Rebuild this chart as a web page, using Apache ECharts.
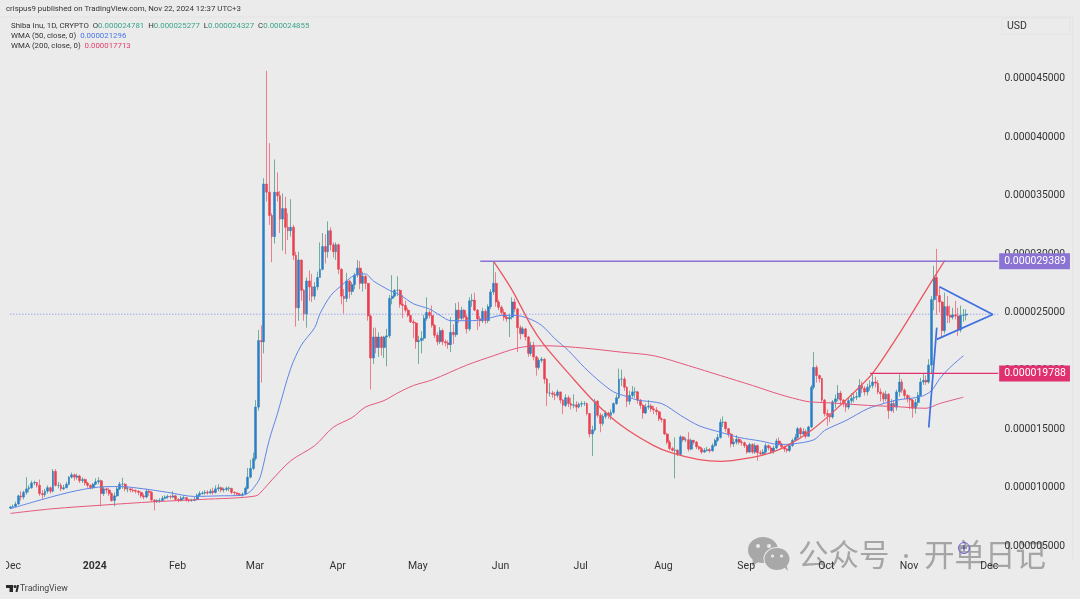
<!DOCTYPE html>
<html><head><meta charset="utf-8">
<style>html,body{margin:0;padding:0;background:#ebebeb}#c{width:1080px;height:599px}</style>
<script src="https://cdn.jsdelivr.net/npm/echarts@6/dist/echarts.min.js"></script>
</head><body><div id="c"></div>
<script>
// prices are in millionths of a USD (1 = 0.000001)
const firstOpen = 8.25;
const closes = [
8.35,8.4,8.6,9.3,9.2,9.6,9.9,10.0,10.4,10.45,
10.2,9.5,9.4,9.7,10.0,9.7,11.4,10.2,10.2,9.9,
10.0,10.3,10.9,11.1,10.9,11.0,10.6,10.7,10.4,10.2,
10.0,10.3,10.5,10.6,9.5,9.9,9.8,9.5,8.9,9.3,
9.9,10.3,10.3,9.9,9.9,9.8,9.75,9.7,9.6,9.3,
9.2,9.7,9.6,8.95,8.8,8.9,8.9,9.1,9.2,9.25,
9.2,9.3,9.0,8.9,9.1,9.15,8.95,8.9,8.9,9.0,
9.35,9.5,9.55,9.6,9.55,9.7,9.6,9.9,10.0,9.8,
9.85,9.95,9.95,9.6,9.55,9.45,9.4,9.45,9.95,10.9,
11.65,12.5,16.9,22.6,22.5,36.0,35.3,33.3,31.5,35.3,
35.0,33.0,33.9,32.3,32.0,32.3,29.9,25.4,29.5,26.9,
24.9,27.7,27.2,26.4,27.2,28.0,28.7,30.65,30.2,32.0,
30.8,30.2,30.8,28.7,26.4,26.2,27.7,26.8,27.4,28.2,
28.8,27.5,28.1,27.5,24.7,21.1,22.9,22.0,22.9,22.0,
22.9,23.0,26.2,26.4,26.9,26.9,25.7,25.6,25.2,24.75,
24.2,24.1,22.5,22.6,22.8,24.5,25.0,24.75,23.9,23.05,
22.5,23.45,22.5,22.4,22.25,23.3,23.1,25.2,24.5,25.2,
24.6,23.6,26.0,26.05,25.2,24.45,24.3,25.1,24.3,25.5,
26.75,27.5,25.9,25.45,25.0,24.6,24.45,24.6,25.9,25.3,
23.7,23.2,23.6,22.9,21.5,22.2,21.2,20.3,20.9,21.0,
19.3,18.1,18.1,18.0,17.9,18.2,17.5,17.05,17.7,17.2,
17.05,17.1,16.9,17.15,17.2,17.2,16.35,14.6,14.95,17.4,
16.2,15.5,16.1,16.4,16.2,16.45,17.2,17.7,19.3,19.3,
18.6,17.4,17.9,18.2,18.2,17.5,17.05,16.4,16.9,17.0,
16.75,16.65,16.5,15.9,15.85,14.6,13.9,13.35,13.2,13.2,
12.85,14.35,14.1,14.1,13.3,14.05,13.9,13.5,13.35,13.05,
13.2,13.25,13.15,13.6,14.05,14.3,15.6,15.6,15.05,14.6,
13.75,13.9,14.15,13.9,13.85,13.6,13.05,13.7,13.05,13.6,
13.0,12.9,13.05,13.6,13.4,13.1,13.4,14.0,13.75,13.5,
13.3,13.2,13.6,14.05,14.3,15.05,14.6,14.8,14.4,15.2,
18.6,20.3,19.6,19.35,17.5,16.35,16.2,16.05,17.35,17.6,
18.1,17.5,17.2,16.9,17.45,17.65,17.75,17.8,18.75,18.5,
18.2,18.6,18.75,19.05,18.95,18.2,18.05,17.6,18.0,16.6,
17.2,16.9,18.2,19.05,18.35,17.9,17.6,17.5,16.8,17.3,
17.9,19.05,19.2,19.05,20.5,26.1,28.0,26.45,25.9,23.45,
25.5,24.75,24.6,24.8,24.7,23.5,24.75,24.78,24.855];
const highs = [
8.45,8.55,8.8,9.4,9.7,9.75,10.9,10.2,10.6,10.6,
10.5,10.7,9.8,9.9,10.2,10.1,11.6,11.6,10.5,10.4,
10.25,10.5,11.0,11.3,11.2,11.2,11.1,10.9,10.8,10.5,
10.3,10.4,10.8,10.9,10.7,10.1,10.0,10.0,9.6,9.6,
10.1,10.5,10.85,10.4,10.1,10.0,9.95,9.85,9.8,9.7,
9.5,9.9,9.8,9.7,9.0,9.0,9.1,9.3,9.35,9.4,
9.35,9.7,9.4,9.1,9.3,9.3,9.2,9.05,9.05,9.2,
9.5,9.7,9.7,9.8,9.8,9.9,10.0,10.2,10.3,10.1,
10.0,10.1,10.1,9.95,9.7,9.6,9.55,9.6,10.1,11.7,
12.4,13.0,17.5,23.5,23.9,36.5,45.7,39.5,33.5,38.1,
37.0,35.4,35.2,34.9,33.5,34.7,32.5,30.2,30.2,29.5,
27.0,28.0,28.6,28.3,27.6,28.5,31.0,31.8,31.7,32.8,
32.3,31.0,31.0,30.9,28.8,27.0,28.4,27.8,27.6,28.4,
29.5,29.4,28.5,28.2,27.5,24.8,23.7,23.7,23.3,23.0,
23.0,23.6,26.5,28.2,27.0,28.1,27.0,26.5,26.0,25.4,
24.8,24.4,24.2,23.0,23.4,24.8,26.3,25.2,25.6,24.0,
23.3,23.75,23.6,22.7,22.6,24.6,24.0,25.8,25.9,25.5,
25.3,24.8,26.3,26.6,26.7,25.3,24.7,25.4,25.3,25.7,
27.0,29.39,28.45,26.1,25.6,25.3,24.8,24.9,26.3,26.2,
25.4,23.9,23.8,23.7,23.0,22.5,22.5,21.3,21.1,21.2,
21.1,19.4,18.95,18.3,18.2,18.4,18.2,17.6,18.0,17.9,
17.7,18.0,17.4,17.3,17.4,17.4,17.3,16.4,15.3,17.6,
17.5,16.4,16.3,16.6,16.5,16.7,17.3,18.0,20.2,20.1,
19.5,18.7,18.3,18.7,18.6,18.3,17.6,17.2,17.2,17.5,
17.2,17.0,16.9,16.6,16.0,15.9,14.7,14.1,13.5,14.3,
13.3,14.5,14.4,14.3,14.75,14.2,14.1,14.0,13.6,13.5,
13.4,13.5,13.4,13.8,14.2,14.6,15.9,16.1,15.7,15.1,
14.7,14.2,14.5,14.3,14.1,13.95,13.7,13.85,13.8,13.8,
13.7,13.2,13.3,13.8,13.7,13.6,13.6,14.2,14.3,13.85,
13.6,13.4,13.7,14.2,14.6,15.2,15.2,15.1,15.0,15.3,
18.8,21.6,20.5,19.7,19.4,17.6,16.7,16.4,17.5,18.0,
18.8,18.3,17.6,17.4,17.7,18.1,18.1,18.2,19.3,19.1,
18.7,18.9,19.2,19.8,19.5,19.2,18.5,18.2,18.3,18.1,
17.6,17.5,18.4,19.7,19.3,18.5,18.0,17.9,17.6,17.6,
18.2,19.4,19.8,19.6,21.0,26.4,29.0,30.45,27.2,26.0,
26.7,26.4,25.6,25.4,26.0,25.4,25.6,25.3,25.277];
const lows = [
8.2,8.3,8.4,8.55,8.9,9.0,9.4,9.6,9.9,10.2,
10.0,9.3,9.0,9.2,9.5,9.5,9.6,10.1,9.95,9.7,
9.8,9.95,10.2,10.8,10.6,10.7,10.4,10.4,10.2,10.0,
9.85,9.9,10.2,10.3,8.4,9.3,9.5,9.3,8.8,8.4,
9.2,9.8,9.9,9.7,9.6,9.6,9.6,9.5,9.35,9.1,
9.0,9.1,9.3,8.8,8.05,8.7,8.7,8.8,9.0,9.05,
9.05,9.1,8.85,8.75,8.8,9.0,8.8,8.75,8.8,8.85,
8.95,9.25,9.4,9.4,9.4,9.45,9.4,9.5,9.7,9.6,
9.6,9.7,9.7,9.45,9.3,9.3,9.3,9.25,9.4,9.85,
10.8,11.5,12.3,16.6,19.0,21.5,34.5,32.5,29.3,30.9,
34.5,31.8,30.3,30.0,31.2,31.5,29.5,23.8,24.3,26.0,
24.3,23.7,26.0,25.9,26.1,26.9,28.2,28.6,29.2,29.7,
30.3,29.7,29.5,28.3,25.7,24.9,25.9,26.2,26.5,27.0,
28.0,27.0,26.8,27.0,24.3,18.4,20.6,21.5,21.2,21.3,
21.1,20.4,22.8,25.7,26.3,26.4,25.4,24.5,25.0,24.6,
24.1,22.8,21.9,20.6,21.5,22.6,24.3,24.5,23.7,22.8,
22.2,22.3,22.2,22.1,21.9,21.6,22.3,22.9,24.1,24.3,
24.4,23.2,23.4,25.5,25.1,23.5,23.8,24.1,24.0,24.1,
25.3,26.5,25.5,25.2,24.8,24.3,24.2,22.9,24.4,25.0,
21.6,22.7,23.1,22.6,21.2,21.3,20.9,19.6,20.1,20.7,
18.9,17.0,17.8,17.7,17.5,17.7,17.2,16.3,16.9,16.9,
16.7,16.8,16.5,16.8,16.9,17.0,16.2,14.3,12.7,14.8,
16.0,14.75,15.3,15.9,15.9,15.8,16.3,17.1,17.6,18.7,
18.3,16.9,17.1,17.7,17.7,17.2,16.75,15.9,16.3,16.7,
16.5,16.3,16.2,15.7,15.6,14.5,13.7,13.2,13.1,10.8,
12.7,12.8,13.9,13.9,13.1,13.2,13.7,13.3,13.2,12.9,
13.0,13.1,13.0,13.1,13.5,13.9,14.2,15.2,14.8,14.3,
13.45,13.5,13.7,13.7,13.6,13.4,12.9,13.0,12.9,12.9,
12.3,12.8,12.8,12.9,13.2,12.9,12.9,13.3,13.6,13.3,
13.05,13.0,13.05,13.5,14.0,14.2,14.3,14.4,14.2,14.4,
15.1,18.4,19.0,19.0,17.3,16.1,15.3,15.6,15.9,16.8,
17.4,17.2,16.9,16.5,16.7,17.2,17.3,17.5,17.7,18.1,
17.9,17.9,18.3,18.5,18.6,18.0,17.4,17.2,17.4,15.9,
16.5,16.4,16.6,17.8,18.1,17.6,17.3,16.7,16.0,16.35,
17.0,17.8,18.8,18.8,18.9,19.8,25.2,24.8,25.0,22.9,
23.2,24.1,24.1,24.4,24.4,23.0,23.3,24.2,24.327];

// [day index, price]: indicator and drawing vertices
const wma50 = [[0,8.2],[9,8.8],[22,9.6],[33,10.05],[41,10.1],[50,9.9],[59,9.6],[69,9.25],[78,9.3],[87,9.35],[90,9.7],[93,10.6],[94,11.2],[97,14.1],[100,16.3],[105,20.2],[109,22.2],[114,23.7],[116,24.9],[120,26.45],[124,27.3],[129,28.2],[133,28.3],[136,27.7],[142,26.9],[146,26.5],[151,25.75],[157,25.3],[161,24.75],[165,24.3],[173,24.3],[179,24.5],[184,24.75],[189,24.75],[194,24.5],[199,23.9],[204,22.75],[209,21.75],[215,20.3],[221,19.05],[226,18.2],[231,17.8],[235,17.5],[244,17.2],[251,16.2],[258,15.3],[266,14.75],[273,14.3],[281,14.0],[288,13.7],[293,13.75],[301,14.1],[305,14.9],[313,15.75],[321,16.75],[327,17.2],[332,17.5],[341,17.8],[345,18.3],[348,19.3],[352,20.3],[357,21.3]];
const wma200 = [[0,7.8],[16,8.2],[34,8.5],[54,8.8],[72,9.0],[92,9.3],[95,9.9],[98,10.67],[105,12.3],[114,13.6],[121,15.18],[128,16.0],[133,16.9],[140,17.46],[145,18.1],[151,18.75],[158,19.23],[171,20.5],[181,21.3],[189,21.9],[194,22.1],[201,22.15],[215,21.95],[229,21.6],[241,21.3],[254,20.45],[266,19.6],[278,18.75],[288,18.0],[298,17.4],[303,17.3],[308,17.25],[321,17.05],[331,16.95],[343,16.8],[348,17.2],[357,17.75]];
const cupCurve = [[181,29.37],[188,26.9],[195,23.9],[200,22.2],[210,19.55],[219,17.3],[229,15.3],[241,13.6],[248,12.95],[258,12.4],[266,12.25],[278,12.6],[285,13.0],[291,13.6],[300,14.9],[308,16.45],[318,18.6],[323,19.8],[333,23.2],[343,26.9],[350,29.45]];
const triangle = [[348,27.2],[368,24.83],[347,22.7]];
const flagpole = [[344,15.15],[347,23.7]];
const upperLevel = {value:29.389, from:176, to:370};
const lowerLevel = {value:19.788, from:322, to:370};
const lastPrice = 24.855;

const tickDates = ['2023-12-01','2024-01-01','2024-02-01','2024-03-01','2024-04-01','2024-05-01','2024-06-01','2024-07-01','2024-08-01','2024-09-01','2024-10-01','2024-11-01','2024-12-01'];
const tickLabels = ['Dec','2024','Feb','Mar','Apr','May','Jun','Jul','Aug','Sep','Oct','Nov','Dec'];

const categories = [];
for (let i = 0; i < 371; i++) categories.push(new Date(Date.UTC(2023,10,30+i)).toISOString().slice(0,10));

const opens = closes.map((c,i)=> i===0 ? firstOpen : closes[i-1]);
const wickData = closes.map((c,i)=>[opens[i], c, Math.min(lows[i],opens[i],c), Math.max(highs[i],opens[i],c)]);
const bodyData = closes.map((c,i)=>[opens[i], c, Math.min(opens[i],c), Math.max(opens[i],c)]);

const FONT = 'Roboto, "Liberation Sans", sans-serif';
const TEXT = {fontFamily:FONT,fontSize:7.85,fontWeight:'normal',color:'#333'};
const lineSeries = (name,data,color,width,extra)=>Object.assign({name,type:'line',data,showSymbol:false,symbol:'none',silent:true,
  lineStyle:{color,width},z:5,animation:false},extra||{});
const levelSeries = (name,lvl,color,width)=>lineSeries(name,[[lvl.from,lvl.value],[lvl.to,lvl.value]],color,width,{
  endLabel:{show:true,formatter:()=>(lvl.value/1e6).toFixed(9),color:'#fff',backgroundColor:color,padding:[2,4,2,5],distance:1,fontSize:10.5,fontFamily:FONT,lineHeight:12},z:6});

const chart = echarts.init(document.getElementById('c'),null,{renderer:'canvas'});
chart.setOption({
  animation:false,
  backgroundColor:'#ebebeb',
  title:[
    {text:'crispus9 published on TradingView.com, Nov 22, 2024 12:37 UTC+3',left:6,top:5,padding:0,textStyle:TEXT},
    {text:'Shiba Inu, 1D, CRYPTO  O{g|0.000024781}  H{g|0.000025277}  L{g|0.000024327}  C{g|0.000024855}',left:11,top:22,padding:0,textStyle:Object.assign({},TEXT,{rich:{g:{color:'#3ba58a',fontFamily:FONT,fontSize:7.85}}})},
    {text:'WMA (50, close, 0)  {b|0.000021296}',left:11,top:32,padding:0,textStyle:Object.assign({},TEXT,{rich:{b:{color:'#4a78e6',fontFamily:FONT,fontSize:7.85}}})},
    {text:'WMA (200, close, 0)  {r|0.000017713}',left:11,top:42,padding:0,textStyle:Object.assign({},TEXT,{rich:{r:{color:'#e2406f',fontFamily:FONT,fontSize:7.85}}})},
    {text:'USD',left:1007,top:21,padding:0,textStyle:{fontFamily:FONT,fontSize:10.5,fontWeight:'normal',color:'#333'}},
    {text:'TradingView',left:20,top:584,padding:0,textStyle:{fontFamily:FONT,fontSize:8.7,fontWeight:'normal',color:'#444'}}
  ],
  grid:{left:6.5,right:80.5,top:20.5,bottom:52.9},
  xAxis:{type:'category',data:categories,boundaryGap:true,
    axisLine:{show:false},axisTick:{show:false},splitLine:{show:false},
    axisLabel:{margin:15,fontSize:10.5,fontFamily:FONT,color:'#333',padding:[0,2,0,0],
      interval:(i,v)=>tickDates.includes(v),
      formatter:(v)=>{const k=tickDates.indexOf(v);const t=tickLabels[k];return t==='2024'?'{b|2024}':t;},
      rich:{b:{fontWeight:'bold',fontSize:10.5,fontFamily:FONT,color:'#333'}}}},
  yAxis:{type:'value',position:'right',min:5,max:50,interval:5,scale:false,
    axisLine:{show:false},axisTick:{show:false},splitLine:{show:false},
    axisLabel:{margin:5,fontSize:10.3,fontFamily:FONT,color:'#333',padding:[2,0,0,0],formatter:v=>v===50?'':(v/1e6).toFixed(9)}},
  series:[
    lineSeries('Last price',[[0,lastPrice],[370,lastPrice]],'#7c86ea',1,{lineStyle:{color:'#7c86ea',width:1,type:[1,2]},z:1}),
    {name:'Wicks',type:'candlestick',data:wickData,barWidth:1,silent:true,z:2,animation:false,
      itemStyle:{color:'#6fae9c',color0:'#ec7f8b',borderColor:'#6fae9c',borderColor0:'#ec7f8b',borderColorDoji:'#6fae9c',borderWidth:1}},
    {name:'Bodies',type:'candlestick',data:bodyData,barWidth:2.4,silent:true,z:3,animation:false,
      itemStyle:{color:'#2a7fc4',color0:'#e8404f',borderColor:'#2a7fc4',borderColor0:'#e8404f',borderColorDoji:'#2a7fc4',borderWidth:0.5}},
    lineSeries('WMA 50',wma50,'#5f85e6',1,{smooth:0.3}),
    lineSeries('WMA 200',wma200,'#e5587c',1,{smooth:0.3}),
    lineSeries('Cup',cupCurve,'#ec5560',1.3,{smooth:0.3}),
    lineSeries('Triangle',triangle,'#3f6fe0',1.7),
    lineSeries('Flagpole',flagpole,'#3f6fe0',1.7),
    levelSeries('Upper level',upperLevel,'#8b73d4',1.4),
    levelSeries('Lower level',lowerLevel,'#e0306f',1.4)
  ],
  graphic:[
    {type:'rect',silent:true,z:50,shape:{x:0,y:555,width:6,height:20},style:{fill:'#ebebeb'}},
    {type:'line',silent:true,shape:{x1:0,y1:17,x2:1073,y2:17},style:{stroke:'#e3e3e3',lineWidth:1}},
    {type:'line',silent:true,shape:{x1:1073,y1:17,x2:1073,y2:560},style:{stroke:'#e3e3e3',lineWidth:1}},
    {type:'rect',silent:true,shape:{x:1002,y:18,width:68,height:16},style:{fill:'none',stroke:'#e3e3e3',lineWidth:1}},
    // TradingView logo
    {type:'polygon',silent:true,shape:{points:[[6,585],[13,585],[13,592],[9.5,592],[9.5,588],[6,588]]},style:{fill:'#2a2a2a'}},
    {type:'circle',silent:true,shape:{cx:15,cy:586.5,r:1.5},style:{fill:'#2a2a2a'}},
    {type:'polygon',silent:true,shape:{points:[[15.5,592],[17,585],[19,585],[17.5,592]]},style:{fill:'#2a2a2a'}},
    // watermark
    {type:'group',silent:true,z:40,children:[
      {type:'circle',shape:{cx:0,cy:0,r:15},x:763,y:550,scaleY:0.87,style:{fill:'#a8a8a8'}},
      {type:'polygon',shape:{points:[[753,558],[752,566],[760,561]]},style:{fill:'#a8a8a8'}},
      {type:'circle',shape:{cx:758,cy:546,r:2},style:{fill:'#ebebeb'}},
      {type:'circle',shape:{cx:769,cy:546,r:2},style:{fill:'#ebebeb'}},
      {type:'circle',shape:{cx:0,cy:0,r:13.5},x:777,y:559,scaleY:0.88,style:{fill:'#ebebeb'}},
      {type:'circle',shape:{cx:0,cy:0,r:12.5},x:777,y:559,scaleY:0.88,style:{fill:'#a8a8a8'}},
      {type:'polygon',shape:{points:[[783,566],[788,571],[786,563]]},style:{fill:'#a8a8a8'}},
      {type:'circle',shape:{cx:772.5,cy:556,r:1.6},style:{fill:'#ebebeb'}},
      {type:'circle',shape:{cx:781.5,cy:556,r:1.6},style:{fill:'#ebebeb'}},
      {type:'text',x:798,y:554,style:{text:'公众号',font:'30.5px "Noto Sans CJK SC"',fill:'#a5a5a5',textVerticalAlign:'middle'}},
      {type:'circle',shape:{cx:906,cy:556,r:2},style:{fill:'#a5a5a5'}},
      {type:'text',x:924,y:554,style:{text:'开单日记',font:'30.5px "Noto Sans CJK SC"',fill:'#a5a5a5',textVerticalAlign:'middle'}}
    ]},
    {type:'group',silent:true,z:45,children:[
      {type:'circle',shape:{cx:964,cy:548,r:5.5},style:{fill:'none',stroke:'#6a62d8',lineWidth:1}},
      {type:'line',shape:{x1:961,y1:548,x2:967,y2:548},style:{stroke:'#3a3a7a',lineWidth:1}},
      {type:'line',shape:{x1:964,y1:545,x2:964,y2:551},style:{stroke:'#3a3a7a',lineWidth:1}}
    ]}
  ]
});
</script></body></html>
